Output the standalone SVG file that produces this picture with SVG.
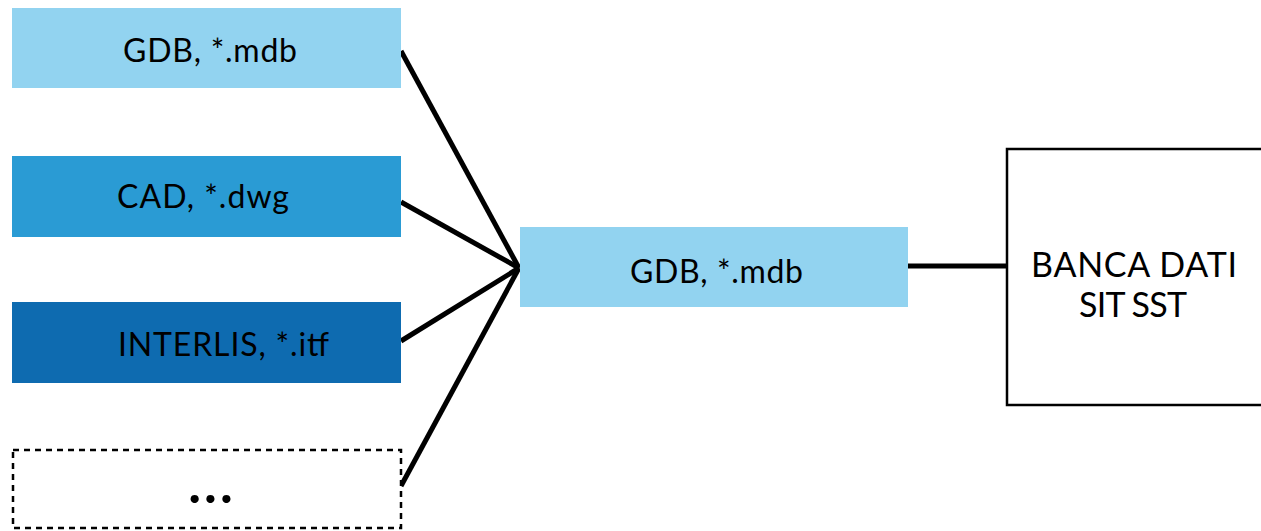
<svg xmlns="http://www.w3.org/2000/svg" width="1261" height="531" viewBox="0 0 1261 531">
<style>
text{font-family:Lato,"Open Sans","Liberation Sans",sans-serif;font-size:32px;fill:#000;text-anchor:middle}
.con{stroke:#000;stroke-width:5;fill:none}
.dots{font-size:54px;font-weight:bold;letter-spacing:3px}
.big{font-size:34px}
</style>
<rect width="1261" height="531" fill="#fff"/>
<g id="connectors">
<line class="con" x1="401" y1="51" x2="519" y2="268"/>
<line class="con" x1="401" y1="202" x2="519" y2="268"/>
<line class="con" x1="401" y1="341" x2="519" y2="268"/>
<line class="con" x1="401" y1="486" x2="519" y2="268"/>
<line class="con" x1="908" y1="266" x2="1006" y2="266"/>
</g>
<g id="n1"><rect x="12" y="8" width="389" height="80" fill="#92D3F0"/><text x="210" y="62" textLength="174">GDB, *.mdb</text></g>
<g id="n2"><rect x="12" y="156" width="389" height="81" fill="#2A9BD4"/><text x="203" y="208" textLength="172">CAD, *.dwg</text></g>
<g id="n3"><rect x="12" y="302" width="389" height="81" fill="#0E6BB0"/><text x="223.5" y="356" textLength="211">INTERLIS, *.itf</text></g>
<g id="n4"><rect x="13" y="450" width="388" height="78" fill="#fff" stroke="#000" stroke-width="2.5" stroke-dasharray="6,5"/><text class="dots" x="212" y="503">...</text></g>
<g id="n5"><rect x="520" y="227" width="388" height="80" fill="#92D3F0"/><text x="716.5" y="283" textLength="173">GDB, *.mdb</text></g>
<g id="n6"><rect x="1007" y="149" width="260" height="256" fill="#fff" stroke="#000" stroke-width="2.5"/><text class="big" x="1134" y="277" textLength="206">BANCA DATI</text><text class="big" x="1133" y="317" textLength="108">SIT SST</text></g>
</svg>
